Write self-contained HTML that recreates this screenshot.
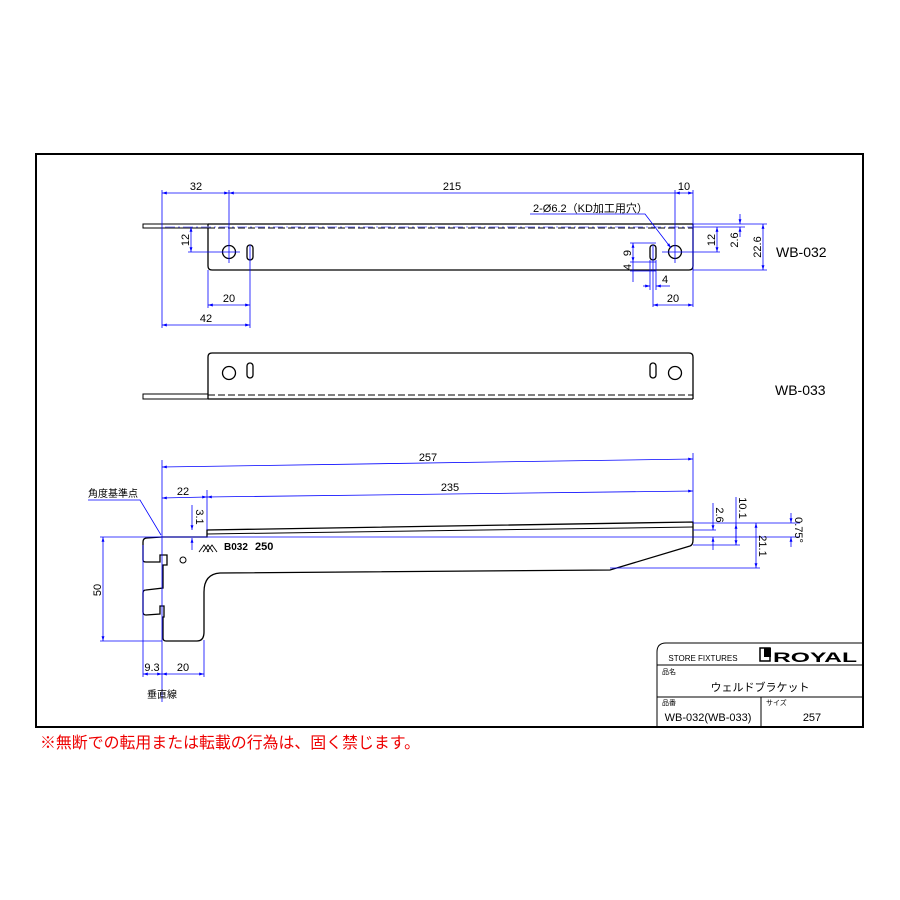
<!DOCTYPE html>
<html><head><meta charset="utf-8"><style>
html,body{margin:0;padding:0;background:#fff;}
svg{display:block;}
text{font-family:"Liberation Sans","Noto Sans CJK JP",sans-serif;}
</style></head><body>
<svg width="900" height="900" viewBox="0 0 900 900" xmlns="http://www.w3.org/2000/svg">
<defs>
<marker id="a" viewBox="0 0 10 10" refX="10" refY="5" markerWidth="6" markerHeight="6" orient="auto-start-reverse"><path d="M0,2 L10,5 L0,8 Z" fill="#00f"/></marker>
</defs>
<rect x="36" y="154" width="827" height="573" fill="none" stroke="#000" stroke-width="2"/>

<!-- TOP VIEW WB-032 -->
<g stroke="#000" fill="none" stroke-width="1.3">
<rect x="143" y="224" width="65" height="4" stroke-width="1"/>
<line x1="208" y1="224" x2="693" y2="224"/>
<path d="M208,224 L208,266 Q208,270 212,270 L689,270 Q693,270 693,266 L693,224"/>
<circle cx="229" cy="252" r="6.5"/>
<rect x="247" y="245" width="6" height="15" rx="3"/>
<circle cx="675" cy="252" r="6.5"/>
<rect x="650" y="245" width="6" height="15" rx="3"/>
</g>
<line x1="208" y1="228" x2="693" y2="228" stroke="#000" stroke-dasharray="7,3" stroke-width="1"/>
<line x1="165" y1="227" x2="693" y2="227" stroke="#88f" stroke-dasharray="10,3,2,3" stroke-width="1"/>

<g stroke="#00f" stroke-width="0.8" fill="none">
<line x1="162" y1="190" x2="162" y2="328"/>
<line x1="229" y1="190" x2="229" y2="263"/>
<line x1="250" y1="245" x2="250" y2="328"/>
<line x1="208" y1="270" x2="208" y2="308"/>
<line x1="693" y1="190" x2="693" y2="307"/>
<line x1="675" y1="190" x2="675" y2="263"/>
<line x1="653" y1="245" x2="653" y2="307"/>
<line x1="162" y1="193" x2="229" y2="193" marker-start="url(#a)" marker-end="url(#a)"/>
<line x1="229" y1="193" x2="675" y2="193" marker-start="url(#a)"/>
<line x1="675" y1="193" x2="693" y2="193" marker-start="url(#a)" marker-end="url(#a)"/>
<line x1="191" y1="227" x2="191" y2="252" marker-start="url(#a)" marker-end="url(#a)"/>
<line x1="188" y1="252" x2="240" y2="252"/>
<line x1="208" y1="305" x2="250" y2="305" marker-start="url(#a)" marker-end="url(#a)"/>
<line x1="162" y1="325" x2="250" y2="325" marker-start="url(#a)" marker-end="url(#a)"/>
<line x1="662" y1="252" x2="720" y2="252"/>
<line x1="693" y1="227" x2="745" y2="227"/>
<line x1="693" y1="224" x2="767" y2="224"/>
<line x1="693" y1="270" x2="767" y2="270"/>
<line x1="717" y1="227" x2="717" y2="252" marker-start="url(#a)" marker-end="url(#a)"/>
<line x1="740" y1="214" x2="740" y2="224" marker-end="url(#a)"/>
<line x1="740" y1="237" x2="740" y2="227" marker-end="url(#a)"/>
<line x1="763" y1="224" x2="763" y2="270" marker-start="url(#a)" marker-end="url(#a)"/>
<line x1="630" y1="243" x2="656" y2="243"/>
<line x1="630" y1="262" x2="656" y2="262"/>
<line x1="630" y1="271" x2="656" y2="271"/>
<line x1="633" y1="243" x2="633" y2="262" marker-start="url(#a)" marker-end="url(#a)"/>
<line x1="633" y1="262" x2="633" y2="282"/>
<line x1="650" y1="260" x2="650" y2="290"/><line x1="656" y1="260" x2="656" y2="290"/>
<line x1="643" y1="286" x2="650" y2="286" marker-end="url(#a)"/>
<line x1="670" y1="286" x2="656" y2="286" marker-end="url(#a)"/>
<line x1="653" y1="305" x2="693" y2="305" marker-start="url(#a)" marker-end="url(#a)"/>
<path d="M530,214 L645,214 L671,248" marker-end="url(#a)"/>
</g>
<g font-size="11" fill="#000">
<text x="196" y="190" text-anchor="middle">32</text>
<text x="452" y="190" text-anchor="middle">215</text>
<text x="684" y="190" text-anchor="middle">10</text>
<text x="229" y="302" text-anchor="middle">20</text>
<text x="206" y="322" text-anchor="middle">42</text>
<text x="673" y="302" text-anchor="middle">20</text>
<text x="665" y="283" text-anchor="middle">4</text>
<text x="533" y="212">2-Ø6.2（KD加工用穴）</text>
<text transform="translate(189,240) rotate(-90)" text-anchor="middle">12</text>
<text transform="translate(715,240) rotate(-90)" text-anchor="middle">12</text>
<text transform="translate(738,240) rotate(-90)" text-anchor="middle">2.6</text>
<text transform="translate(761,247) rotate(-90)" text-anchor="middle">22.6</text>
<text transform="translate(631,253) rotate(-90)" text-anchor="middle">9</text>
<text transform="translate(631,267) rotate(-90)" text-anchor="middle">4</text>
<text x="776" y="257" font-size="14">WB-032</text>
<text x="775" y="395" font-size="14">WB-033</text>
</g>

<!-- MIDDLE VIEW WB-033 -->
<g stroke="#000" fill="none" stroke-width="1.3">
<rect x="143" y="394" width="65" height="5" stroke-width="1"/>
<line x1="208" y1="399" x2="693" y2="399"/>
<path d="M208,399 L208,357 Q208,353 212,353 L689,353 Q693,353 693,357 L693,399"/>
<circle cx="229" cy="373" r="6.5"/>
<rect x="247" y="363" width="6" height="15" rx="3"/>
<circle cx="675" cy="373" r="6.5"/>
<rect x="650" y="363" width="6" height="15" rx="3"/>
</g>
<line x1="208" y1="395" x2="693" y2="395" stroke="#000" stroke-dasharray="7,3" stroke-width="1"/>

<!-- SIDE VIEW -->
<g stroke="#000" fill="none" stroke-width="1.3">
<path d="M162,537 L147,538 Q143,538 143,542 L143,560 Q143,562 146,562 L160,562 L160,555 L167,555 L167,565 L163,565 L163,588 L146,590 Q143,590 143,593 L143,612 Q143,615 146,615 L160,614 L160,606 L164,606 L164,617 L163,617 L163,638 Q163,641 166,641 L197,641 Q204,641 204,632 L204,592 Q204,574 220,573 L610,570 L690,546 Q693,545 693,540 L693,522 L207,530 L207,537 Z"/>
<line x1="207" y1="534" x2="693" y2="527" stroke-width="1"/>
<circle cx="183" cy="560" r="3" stroke-width="1"/>
<path d="M199,552 L204,545 L209,552 M203,552 L208,545 L213,552 M207,552 L212,545 L217,552" stroke-width="0.9"/>
</g>
<text x="224" y="550" font-size="10" font-weight="bold" fill="#000">B032</text>
<text x="255" y="550" font-size="11" font-weight="bold" fill="#000">250</text>

<g stroke="#00f" stroke-width="0.8" fill="none">
<line x1="162" y1="460" x2="162" y2="702"/>
<line x1="207" y1="490" x2="207" y2="530"/>
<line x1="693" y1="453" x2="693" y2="522"/>
<line x1="162" y1="467" x2="693" y2="459" marker-start="url(#a)" marker-end="url(#a)"/>
<line x1="162" y1="498" x2="207" y2="497" marker-start="url(#a)" marker-end="url(#a)"/>
<line x1="207" y1="497" x2="693" y2="491" marker-start="url(#a)" marker-end="url(#a)"/>
<line x1="192" y1="505" x2="192" y2="530" marker-end="url(#a)"/>
<line x1="192" y1="550" x2="192" y2="538" marker-end="url(#a)"/>
<line x1="100" y1="537" x2="800" y2="537"/>
<line x1="100" y1="641" x2="162" y2="641"/>
<line x1="103" y1="537" x2="103" y2="641" marker-start="url(#a)" marker-end="url(#a)"/>
<line x1="143" y1="545" x2="143" y2="677"/>
<line x1="204" y1="640" x2="204" y2="677"/>
<line x1="143" y1="674" x2="162" y2="674" marker-start="url(#a)" marker-end="url(#a)"/>
<line x1="162" y1="674" x2="204" y2="674" marker-start="url(#a)" marker-end="url(#a)"/>
<path d="M88,500 L140,500 L161,535"/>
<line x1="693" y1="523" x2="800" y2="523"/>
<line x1="693" y1="545" x2="740" y2="545"/>
<line x1="610" y1="568" x2="760" y2="568"/>
<line x1="693" y1="530" x2="716" y2="530"/>
<line x1="713" y1="503" x2="713" y2="530" marker-end="url(#a)"/>
<line x1="713" y1="550" x2="713" y2="537" marker-end="url(#a)"/>
<line x1="736" y1="497" x2="736" y2="545" />
<line x1="736" y1="524" x2="736" y2="545" marker-start="url(#a)" marker-end="url(#a)"/>
<line x1="756" y1="523" x2="756" y2="568" marker-start="url(#a)" marker-end="url(#a)"/>
<line x1="791" y1="513" x2="791" y2="523" marker-end="url(#a)"/>
<line x1="791" y1="547" x2="791" y2="537" marker-end="url(#a)"/>
</g>
<g font-size="11" fill="#000">
<text x="428" y="461" text-anchor="middle">257</text>
<text x="183" y="495" text-anchor="middle">22</text>
<text x="450" y="491" text-anchor="middle">235</text>
<text x="88" y="497" font-size="10">角度基準点</text>
<text transform="translate(196,517) rotate(90)" text-anchor="middle">3.1</text>
<text transform="translate(101,590) rotate(-90)" text-anchor="middle">50</text>
<text x="152" y="671" text-anchor="middle">9.3</text>
<text x="183" y="671" text-anchor="middle">20</text>
<text x="162" y="698" text-anchor="middle" font-size="10">垂直線</text>
<text transform="translate(716,515) rotate(90)" text-anchor="middle">2.6</text>
<text transform="translate(739,508) rotate(90)" text-anchor="middle">10.1</text>
<text transform="translate(759,546) rotate(90)" text-anchor="middle">21.1</text>
<text transform="translate(795,530) rotate(90)" text-anchor="middle">0.75°</text>
</g>

<!-- TITLE BLOCK -->
<g stroke="#000" fill="none" stroke-width="1">
<path d="M657,727 L657,652 Q657,643 666,643 L863,643"/>
<line x1="657" y1="665" x2="863" y2="665"/>
<line x1="657" y1="697" x2="863" y2="697"/>
<line x1="761" y1="697" x2="761" y2="727"/>
<rect x="760" y="648" width="10" height="13" stroke-width="1.5"/>
</g>
<rect x="764" y="648" width="7" height="9" fill="#000"/>
<text x="703" y="661" font-size="8" text-anchor="middle" fill="#000">STORE FIXTURES</text>
<text x="773" y="662" font-size="14" font-weight="bold" fill="#000" textLength="84" lengthAdjust="spacingAndGlyphs">ROYAL</text>
<text x="662" y="674" font-size="7" fill="#000">品名</text>
<text x="760" y="691" font-size="11" text-anchor="middle" fill="#000">ウェルドブラケット</text>
<text x="662" y="705" font-size="7" fill="#000">品番</text>
<text x="766" y="705" font-size="7" fill="#000">サイズ</text>
<text x="708" y="721" font-size="11" text-anchor="middle" fill="#000">WB-032(WB-033)</text>
<text x="812" y="721" font-size="11" text-anchor="middle" fill="#000">257</text>

<text x="40" y="748" font-size="16" fill="#e00" textLength="380" lengthAdjust="spacingAndGlyphs">※無断での転用または転載の行為は、固く禁じます。</text>
</svg>
</body></html>
